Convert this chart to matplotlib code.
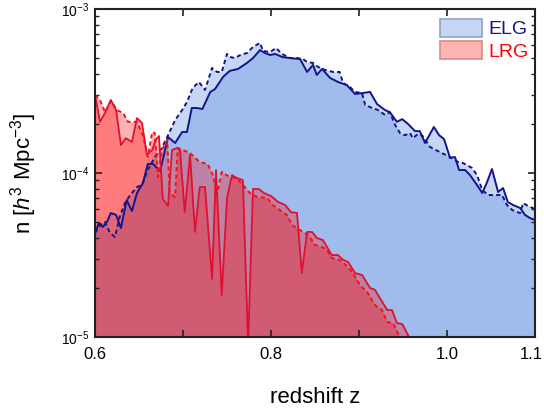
import numpy as np
import matplotlib
matplotlib.use("Agg")
import matplotlib.pyplot as plt
import matplotlib.transforms as mtransforms
from matplotlib.patches import Patch

plt.rcParams["font.family"] = ["Liberation Sans", "DejaVu Sans"]
plt.rcParams["mathtext.fontset"] = "custom"
plt.rcParams["mathtext.rm"] = "Liberation Sans"
plt.rcParams["mathtext.it"] = "Liberation Sans:italic"

# ELG number density, units of 1e-4 h^3 Mpc^-3
elg_z = [0.600, 0.6045, 0.609, 0.6136, 0.618, 0.624, 0.6295, 0.636, 0.642, 0.6477,
         0.6545, 0.660, 0.666, 0.674, 0.683, 0.691, 0.699, 0.7045, 0.710, 0.716,
         0.722, 0.731, 0.7364, 0.7455, 0.753, 0.7625, 0.7727, 0.7795, 0.7875, 0.793,
         0.799, 0.8045, 0.8125, 0.8216, 0.833, 0.841, 0.8477, 0.852, 0.858, 0.867,
         0.876, 0.886, 0.8955, 0.9034, 0.9125, 0.9205, 0.9295, 0.935, 0.943, 0.949,
         0.9557, 0.9636, 0.969, 0.975, 0.985, 0.991, 0.9966, 1.0034, 1.009, 1.0136,
         1.0205, 1.026, 1.034, 1.040, 1.0455, 1.051, 1.058, 1.0636, 1.069, 1.075,
         1.083, 1.0886, 1.094, 1.100]
elg_n = [0.431, 0.496, 0.469, 0.503, 0.570, 0.555, 0.462, 0.684, 0.587, 0.755,
         0.869, 1.135, 1.135, 1.028, 1.658, 1.524, 1.778, 1.778, 2.49, 2.49,
         2.455, 3.12, 3.25, 3.85, 4.19, 4.31, 4.69, 5.02, 5.62, 5.39,
         5.24, 5.32, 5.10, 5.02, 4.95, 4.13, 4.56, 3.96, 4.31, 3.80,
         3.59, 3.44, 3.03, 3.07, 3.12, 2.63, 2.42, 2.35, 2.05, 2.13,
         1.99, 1.80, 1.80, 1.524, 1.908, 1.70, 1.61, 1.235, 1.252, 1.043,
         1.043, 0.972, 0.845, 0.755, 0.881, 1.058, 0.766, 0.810, 0.666, 0.638,
         0.612, 0.555, 0.532, 0.517]

elg2_z = [0.600, 0.6057, 0.6114, 0.617, 0.6227, 0.628, 0.634, 0.640, 0.6477, 0.6534,
          0.660, 0.668, 0.676, 0.683, 0.691, 0.699, 0.7045, 0.711, 0.718, 0.725,
          0.733, 0.7386, 0.744, 0.750, 0.753, 0.759, 0.765, 0.7727, 0.7795, 0.7875,
          0.791, 0.799, 0.8057, 0.8125, 0.8216, 0.8295, 0.8364, 0.841, 0.8477, 0.8534,
          0.8614, 0.8705, 0.878, 0.8818, 0.8898, 0.8955, 0.9034, 0.907, 0.915, 0.9216,
          0.9295, 0.935, 0.941, 0.9466, 0.952, 0.958, 0.961, 0.967, 0.9716, 0.9807,
          0.992, 1.0034, 1.0125, 1.018, 1.0284, 1.034, 1.040, 1.0466, 1.0568, 1.0625,
          1.068, 1.074, 1.0795, 1.083, 1.0864, 1.092, 1.100]
elg2_n = [0.431, 0.482, 0.503, 0.431, 0.407, 0.539, 0.656, 0.734, 0.821, 0.845,
          1.043, 1.252, 1.42, 1.70, 2.10, 2.42, 2.71, 3.30, 3.59, 3.21,
          4.37, 4.13, 4.13, 5.32, 5.10, 5.02, 5.24, 5.39, 5.87, 6.21,
          5.54, 5.47, 5.78, 5.32, 5.02, 5.02, 4.95, 4.75, 4.69, 4.43,
          4.25, 4.13, 4.13, 3.54, 3.34, 3.12, 3.07, 2.60, 2.49, 2.42,
          2.26, 2.35, 1.96, 1.75, 1.70, 1.75, 1.63, 1.73, 1.70, 1.44,
          1.34, 1.252, 1.167, 1.151, 1.073, 0.972, 0.788, 0.734, 0.734, 0.734,
          0.638, 0.595, 0.578, 0.570, 0.656, 0.629, 0.603]

# LRG number density, units of 1e-4 h^3 Mpc^-3
lrg_z = [0.600, 0.6057, 0.6114, 0.618, 0.624, 0.6295, 0.635, 0.642, 0.6477, 0.6534,
         0.659, 0.665, 0.669, 0.6727, 0.677, 0.683, 0.6875, 0.693, 0.6966, 0.702,
         0.708, 0.7136, 0.719, 0.725, 0.733, 0.7375, 0.744, 0.750, 0.7557, 0.761,
         0.768, 0.774, 0.7795, 0.786, 0.792, 0.800, 0.808, 0.816, 0.8227, 0.8295,
         0.835, 0.841, 0.8466, 0.852, 0.859, 0.869, 0.876, 0.882, 0.8875, 0.8955,
         0.9034, 0.9125, 0.918, 0.932, 0.9375, 0.943, 0.949, 0.9557, 0.960]
lrg_n = [3.03, 2.05, 2.32, 2.79, 2.42, 1.48, 1.63, 1.545, 2.16, 2.02,
         1.288, 1.38, 1.59, 1.68, 0.694, 0.629, 1.38, 1.42, 1.38, 0.578,
         1.288, 0.437, 0.821, 0.821, 0.226, 1.043, 0.180, 0.705, 0.972, 0.932,
         0.906, 0.089, 0.799, 0.799, 0.755, 0.724, 0.666, 0.638, 0.578, 0.570,
         0.2455, 0.437, 0.437, 0.402, 0.390, 0.316, 0.316, 0.295, 0.287, 0.2455,
         0.239, 0.199, 0.194, 0.146, 0.146, 0.1217, 0.120, 0.1028, 0.089]

lrg2_z = [0.600, 0.6057, 0.6114, 0.618, 0.625, 0.632, 0.6375, 0.6477, 0.6545, 0.660,
          0.665, 0.668, 0.6716, 0.676, 0.682, 0.685, 0.691, 0.694, 0.700, 0.708,
          0.719, 0.728, 0.734, 0.7386, 0.744, 0.753, 0.761, 0.768, 0.776, 0.784,
          0.7955, 0.802, 0.810, 0.818, 0.824, 0.8307, 0.8386, 0.844, 0.850, 0.858,
          0.8636, 0.869, 0.878, 0.8875, 0.893, 0.901, 0.910, 0.918, 0.926, 0.932,
          0.9386, 0.944, 0.950]
lrg2_n = [2.99, 2.79, 2.35, 2.75, 2.42, 2.32, 2.05, 2.05, 1.70, 1.252,
          1.778, 1.75, 0.945, 1.38, 1.59, 0.755, 0.714, 1.42, 1.38, 1.324,
          1.167, 1.135, 0.972, 0.734, 1.014, 0.945, 0.932, 0.845, 0.755, 0.714,
          0.705, 0.638, 0.595, 0.555, 0.482, 0.456, 0.431, 0.407, 0.364, 0.354,
          0.339, 0.303, 0.295, 0.267, 0.2455, 0.2075, 0.1855, 0.1567, 0.146, 0.1234,
          0.1217, 0.1057, 0.0946]

x_ticks = [0.6, 0.7, 0.8, 0.9, 1.0, 1.1]
x_labels = ["0.6", "", "0.8", "", "1.0", "1.1"]

fig = plt.figure(figsize=(5.44, 4.08), dpi=100)
ax = fig.add_axes([0.1746, 0.174, 0.809, 0.804])

floor = 1e-6
elg_col = "#5487de"
lrg_col = "#ff0000"

ax.fill_between(elg2_z, np.array(elg2_n) * 1e-4, floor, color=elg_col, alpha=0.33, lw=0)
ax.fill_between(elg_z, np.array(elg_n) * 1e-4, floor, color=elg_col, alpha=0.33, lw=0)
ax.plot(elg2_z, np.array(elg2_n) * 1e-4, color="#15158a", lw=1.4, ls=(0, (2.2, 1.6)))
ax.plot(elg_z, np.array(elg_n) * 1e-4, color="#15158a", lw=1.4)

ax.fill_between(lrg2_z, np.array(lrg2_n) * 1e-4, floor, color=lrg_col, alpha=0.3, lw=0)
ax.fill_between(lrg_z, np.array(lrg_n) * 1e-4, floor, color=lrg_col, alpha=0.3, lw=0)
ax.plot(lrg2_z, np.array(lrg2_n) * 1e-4, color="#ff1010", lw=1.4, ls=(0, (2.2, 1.6)))
ax.plot(lrg_z, np.array(lrg_n) * 1e-4, color="#e01030", lw=1.3)

ax.set_yscale("log")
ax.set_xlim(0.6, 1.1)
ax.set_ylim(1e-5, 1e-3)

ax.set_xticks(x_ticks)
ax.set_xticklabels(x_labels, fontsize=12)
ax.set_yticks([1e-5, 1e-4, 1e-3])
ax.set_yticklabels([r"10$^{-5}$", r"10$^{-4}$", r"10$^{-3}$"], fontsize=10)
ax.tick_params(which="both", direction="in", top=True, right=True, color="#222222")
ax.tick_params(which="major", length=5, width=1.2)
ax.tick_params(which="minor", length=3, width=1.0)
ax.tick_params(axis="x", pad=7)
ax.tick_params(axis="y", pad=4)
for s in ax.spines.values():
    s.set_linewidth(1.5)
    s.set_color("#222222")

# last x label sits at the figure edge, nudge it in a little
lab = ax.get_xticklabels()[-1]
lab.set_transform(lab.get_transform() + mtransforms.ScaledTranslation(-4 / 100, 0, fig.dpi_scale_trans))

ax.set_xlabel("redshift z", fontsize=16, labelpad=18)
ax.set_ylabel(r"n [$\mathit{h}^3$ Mpc$^{-3}$]", fontsize=16, labelpad=16)

handles = [Patch(facecolor="#c6d7f4", edgecolor="#8ea4cc", lw=1.2),
           Patch(facecolor="#ffb4b4", edgecolor="#d88a8a", lw=1.2)]
leg = ax.legend(handles, ["ELG", "LRG"], loc="upper right", frameon=False,
                fontsize=14, bbox_to_anchor=(0.985, 0.97), borderaxespad=0,
                borderpad=0, handlelength=2.2, handleheight=1.05,
                labelspacing=0.15, handletextpad=0.3)
leg.get_texts()[0].set_color("#15158a")
leg.get_texts()[1].set_color("#ff0000")

fig.savefig("out.png", dpi=100)
